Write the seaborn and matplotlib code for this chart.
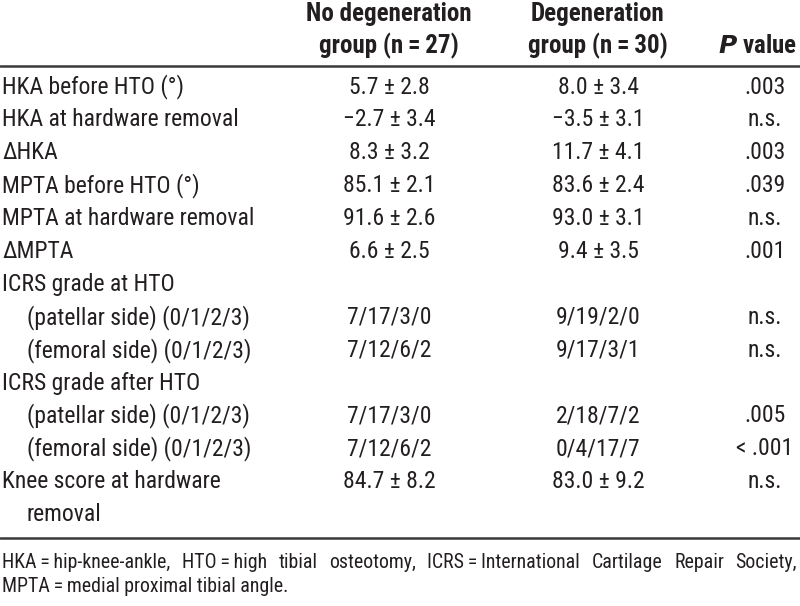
import matplotlib
matplotlib.use("Agg")
import matplotlib.pyplot as plt
import seaborn as sns

# Table contents
row_labels = [
    "HKA before HTO (°)",
    "HKA at hardware removal",
    "ΔHKA",
    "MPTA before HTO (°)",
    "MPTA at hardware removal",
    "ΔMPTA",
    "ICRS grade at HTO",
    "(patellar side) (0/1/2/3)",
    "(femoral side) (0/1/2/3)",
    "ICRS grade after HTO",
    "(patellar side) (0/1/2/3)",
    "(femoral side) (0/1/2/3)",
    "Knee score at hardware",
    "removal",
]
indented = [False, False, False, False, False, False, False,
            True, True, False, True, True, False, True]
no_degeneration = ["5.7 ± 2.8", "−2.7 ± 3.4", "8.3 ± 3.2", "85.1 ± 2.1", "91.6 ± 2.6",
                   "6.6 ± 2.5", "", "7/17/3/0", "7/12/6/2", "", "7/17/3/0",
                   "7/12/6/2", "84.7 ± 8.2", ""]
degeneration = ["8.0 ± 3.4", "−3.5 ± 3.1", "11.7 ± 4.1", "83.6 ± 2.4", "93.0 ± 3.1",
                "9.4 ± 3.5", "", "9/19/2/0", "9/17/3/1", "", "2/18/7/2",
                "0/4/17/7", "83.0 ± 9.2", ""]
p_values = [".003", "n.s.", ".003", ".039", "n.s.", ".001", "", "n.s.", "n.s.",
            "", ".005", "< .001", "n.s.", ""]
headers = [("No degeneration", "group (n\u2009=\u200927)"),
           ("Degeneration", "group (n\u2009=\u200930)")]
footnote_1 = ("HKA\u2009=\u2009hip-knee-ankle, HTO\u2009=\u2009high tibial osteotomy, "
              "ICRS\u2009=\u2009International Cartilage Repair Society,")
footnote_2 = "MPTA\u2009=\u2009medial proximal tibial angle."

sns.set_theme(style="white")
plt.rcParams["font.family"] = ["Roboto Condensed", "Liberation Sans Narrow",
                               "Roboto", "DejaVu Sans"]

ink = "#231f20"
fig = plt.figure(figsize=(8, 6.06), dpi=100)
ax = fig.add_axes([0, 0, 1, 1])
ax.set_xlim(0, 800)
ax.set_ylim(606, 0)
ax.axis("off")

body_size = 17
head_size = 18
note_size = 14.3

# header
col_x = [389, 598]
for cx, (l1, l2) in zip(col_x, headers):
    ax.text(cx, 14, l1, ha="center", va="center", fontsize=head_size,
            fontweight="bold", color=ink)
    ax.text(cx, 46, l2, ha="center", va="center", fontsize=head_size,
            fontweight="bold", color=ink)
ax.text(797, 46, r"$\bfit{P}$ value", ha="right", va="center",
        fontsize=head_size, fontweight="bold", color=ink)

ax.axhline(66, color="#3a3a3a", lw=1.8)
ax.axhline(538, color="#3a3a3a", lw=1.8)

# body rows
y0, pitch = 87, 32.9
for i, lab in enumerate(row_labels):
    y = y0 + i * pitch
    ax.text(27 if indented[i] else 2, y, lab, ha="left", va="center",
            fontsize=body_size, color=ink)
    ax.text(col_x[0], y, no_degeneration[i], ha="center", va="center",
            fontsize=body_size, color=ink)
    ax.text(col_x[1], y, degeneration[i], ha="center", va="center",
            fontsize=body_size, color=ink)
    ax.text(765, y, p_values[i], ha="center", va="center",
            fontsize=body_size, color=ink)

# footnote, first line justified across the width
fig.canvas.draw()
renderer = fig.canvas.get_renderer()
words = footnote_1.split(" ")
items = [ax.text(0, 562, w, ha="left", va="center", fontsize=note_size, color=ink)
         for w in words]
widths = [t.get_window_extent(renderer).width for t in items]
gap = (797 - 2 - sum(widths)) / (len(words) - 1)
x = 2
for t, w in zip(items, widths):
    t.set_x(x)
    x += w + gap
ax.text(2, 586, footnote_2, ha="left", va="center", fontsize=note_size, color=ink)

fig.savefig("out.png", dpi=100, facecolor="white")
